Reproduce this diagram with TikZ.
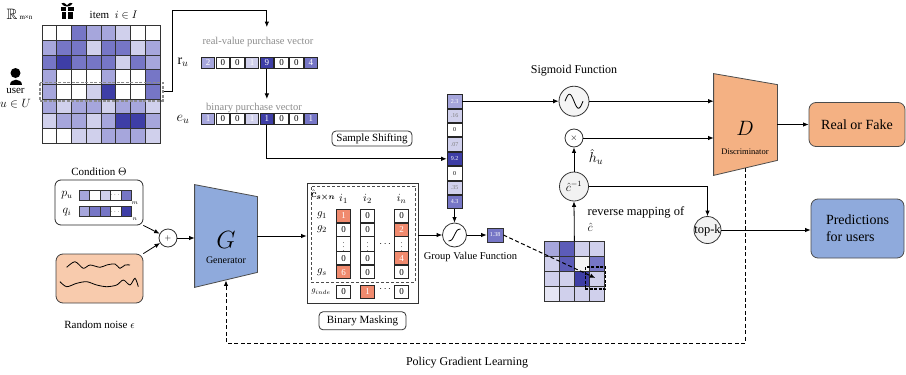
\documentclass[tikz,border=0pt]{standalone}
\usepackage{amsmath,amssymb}
\usepackage{fontspec}
\setmainfont{Liberation Serif}
\usepackage{tikz}
\usetikzlibrary{positioning}
\usetikzlibrary{arrows.meta}

% heat map shades
\definecolor{lev0}{RGB}{255,255,255}
\definecolor{lev0g}{RGB}{244,244,244}
\definecolor{lev1p}{RGB}{230,230,244}
\definecolor{lev1}{RGB}{208,208,236}
\definecolor{lev2}{RGB}{166,166,220}
\definecolor{lev3}{RGB}{118,118,198}
\definecolor{lev3b}{RGB}{92,92,184}
\definecolor{lev4}{RGB}{62,62,166}
\definecolor{salmon}{RGB}{240,138,110}
\definecolor{genblue}{RGB}{143,170,220}
\definecolor{discorange}{RGB}{244,177,131}
\definecolor{noisepeach}{RGB}{248,203,173}

\newcommand{\fsz}[1]{\fontsize{#1}{#1}\selectfont}

\begin{document}
\begin{tikzpicture}
	[x=1pt,y=1pt,line width=0.8pt,
	arr/.style={-{Latex[length=5.5pt,width=4.5pt]}},
	dasharr/.style={-{Latex[length=5.5pt,width=4.5pt]},dash pattern=on 4pt off 2.5pt,line width=1pt},
	heatcell/.style={draw=black!80,minimum width=14.75pt,minimum height=14.7pt,inner sep=0pt},
	veccell/.style={draw=black!85,minimum width=13.4pt,minimum height=11pt,inner sep=0pt,font=\fsz{9}},
	colcell/.style={draw=black!85,minimum width=15pt,minimum height=13.4pt,inner sep=0pt,font=\fsz{6}},
	maskcell/.style={draw=black!85,minimum width=14.5pt,minimum height=13pt,inner sep=0pt,font=\fsz{9}},
	condcell/.style={draw=black!80,line width=0.6pt,minimum width=10.5pt,minimum height=10pt,inner sep=0pt,font=\fsz{6}},
	redcell/.style={fill=salmon,text=white},
	whitecell/.style={fill=white},
	opnode/.style={circle,draw=black!80,inner sep=0pt},
	tagbox/.style={draw=black!80,rounded corners=4pt,inner sep=0pt,font=\fsz{11}},
	outbox/.style={draw=black!70,rounded corners=7pt,font={\fontsize{14}{17}\selectfont}}
	]
	\useasboundingbox (0,0) rectangle (906,-375);
	
	%Rating matrix
	\node(Rset) at (12,-14) {\fsz{15}$\mathbb{R}$};
	\node(Rdim) at (26,-18) {\fsz{7}m×n};
	\foreach \row [count=\r] in {{0,0,3,2,2,1,0,0},{2,3,3,1,3,3,1,2},{3,4,3,3,3,1,3,2},{2,0,0,0,2,0,0,3},{2,0,0,1,4,0,0,3},{2,1,2,2,1,2,2,1},{1,2,2,1,2,4,4,2},{0,0,1,1,2,2,2,1}}
		\foreach \v [count=\c] in \row
			\node(R-\r-\c)[heatcell,fill=lev\v] at ({42+14.75*(\c-0.5)},{-25.5-14.7*(\r-0.5)}) {};
	\node(urow)[draw=black!45,dash pattern=on 3pt off 1.5pt,line width=1.2pt,minimum width=123pt,minimum height=18.5pt,inner sep=0pt] at (R-5-4.east) {};
	
	%gift and user icons
	\fill (60.5,-6.5) rectangle (73.5,-10.5);
	\fill (61.5,-11.5) rectangle (72.5,-18.5);
	\fill[white] (66.3,-6.5) rectangle (67.7,-18.5);
	\draw[line width=1.1pt] (67,-6) .. controls (62,-0.5) and (60,-5) .. (67,-6);
	\draw[line width=1.1pt] (67,-6) .. controls (72,-0.5) and (74,-5) .. (67,-6);
	\node(item)[anchor=west] at (86,-15) {\fsz{11}item~~$i\in I$};
	\fill (15.5,-73) circle (5pt);
	\fill (9.5,-85) .. controls (9.5,-78) and (21.5,-78) .. (21.5,-85) -- cycle;
	\node(user)[inner sep=0pt] at (15.5,-90.5) {\fsz{11}user};
	\node(uset)[inner sep=0pt] at (15.5,-103.5) {\fsz{12}$u\in U$};
	
	%purchase vectors
	\node(rulab)[text=black!45] at (258,-42) {\fsz{10.5}real-value purchase vector};
	\node(ru) at (183,-62) {\fsz{14}$\mathrm{r}_u$};
	\foreach \v/\f/\t [count=\c] in {2/lev2/white,0/lev0/black,0/lev0/black,1/lev1/white,9/lev4/white,0/lev0/black,0/lev0/black,4/lev3/white}
		\node(ru-\c)[veccell,fill=\f,text=\t] at ({200.7+14.7*(\c-0.5)},-63) {\v};
	\node(eulab)[text=black!45] at (254,-107.5) {\fsz{10.5}binary purchase vector};
	\node(eu) at (183,-119) {\fsz{14}$e_u$};
	\foreach \v/\f/\t [count=\c] in {1/lev2/white,0/lev0/black,0/lev0/black,1/lev1/white,1/lev4/white,0/lev0/black,0/lev0/black,1/lev3/white}
		\node(eu-\c)[veccell,fill=\f,text=\t] at ({200.7+14.7*(\c-0.5)},-118.7) {\v};
	\node(shift)[tagbox,minimum width=80pt,minimum height=15pt] at (372,-138.5) {Sample Shifting};
	
	%shifted column
	\foreach \v/\f/\t [count=\k] in {2.3/lev2/white,.16/lev1/black!50,0/lev0/black,.07/lev1/black!50,9.2/lev4/white,0/lev0/black,.35/lev1/black!50,4.3/lev3/white}
		\node(col-\k)[colcell,fill=\f,text=\t] at (454.5,{-94-14.4*(\k-0.5)}) {\v};
	
	\draw[arr] (urow.east) -- ++(8.5,0) |- ([yshift=47pt]ru-5.north) -- ([yshift=30pt]ru-5.north);
	\draw[arr] (ru-5.south) -- (ru-5.south |- eulab.north);
	\draw[arr] (eu-5.south) |- (col-5.west);
	
	%condition and noise
	\node(cond)[draw=black!85,rounded corners=6pt,minimum width=88pt,minimum height=45pt] at (99,-202.5) {};
	\node(condlab)[above=0pt of cond] {\fsz{11}Condition $\Theta$};
	\node(pu) at (67,-195) {\fsz{12}$p_u$};
	\node(qi) at (67,-212) {\fsz{12}$q_i$};
	\foreach \f/\v [count=\c] in {lev2/{},lev0/{},lev1/{},lev0/$\cdots$,lev3/{}}
		\node(pu-\c)[condcell,fill=\f] at ({79+10.5*(\c-0.5)},-195) {\v};
	\foreach \f/\v [count=\c] in {lev2/{},lev3/{},lev3/{},lev0/$\cdots$,lev4/{}}
		\node(qi-\c)[condcell,fill=\f] at ({79+10.5*(\c-0.5)},-211.7) {\v};
	\node(msub) at (135,-203) {\fsz{6}$m$};
	\node(nsub) at (135,-219) {\fsz{6}$n$};
	
	\node(noise)[draw=black!75,fill=noisepeach,rounded corners=7pt,minimum width=87pt,minimum height=49pt] at (99.5,-278.5) {};
	\draw plot[smooth] coordinates {(66.7,-267.3) (75,-261.7) (83.3,-268.3) (90,-265) (100,-267.3) (106.7,-265) (115,-264) (120,-268.3) (125,-265) (130,-265)};
	\draw plot[smooth] coordinates {(60,-281.7) (66.7,-286.7) (76.7,-283.3) (86.7,-281.7) (96.7,-285) (106.7,-286.7) (116.7,-285) (123.3,-280) (130,-285) (135,-278.3) (138.3,-286.7)};
	\node(noiselab)[below=14pt of noise] {\fsz{11}Random noise $\epsilon$};
	
	\node(plus)[opnode,minimum size=18pt] at (168,-238) {\fsz{8}$+$};
	
	%Generator
	\node(Gen)[minimum width=62pt,minimum height=102pt,inner sep=0pt] at (226,-236) {};
	\draw[fill=genblue,draw=black!70] (Gen.north west) -- ([yshift=-12pt]Gen.north east) -- ([yshift=15pt]Gen.south east) -- (Gen.south west) -- cycle;
	\node(Gsym) at (226,-240) {\fsz{24}$G$};
	\node(Glab) at (226,-260) {\fsz{10}Generator};
	
	\draw[arr] (cond.south east) -- (plus);
	\draw[arr] (noise.north east) -- (plus);
	\draw[arr] (plus.east) -- (plus.east -| Gen.west);
	
	%Binary masking
	\node(mask)[draw=black!80,minimum width=111pt,minimum height=120pt,inner sep=0pt] at (362.5,-243) {};
	\node(grp)[draw=black!70,dash pattern=on 3pt off 2pt,line width=0.7pt,minimum width=104pt,minimum height=96pt,inner sep=0pt] at (363,-234) {};
	\node(chat) at (323,-195) {\fsz{11}$\hat{\boldsymbol{c}}_{\boldsymbol{s\times n}}$};
	\foreach \x/\i in {343.5/1,367.5/2,401.5/n}
		\node(i-\i) at (\x,-199) {\fsz{11}$i_{\i}$};
	\foreach \y/\g in {-215.5/1,-229.7/2,-272.3/s}
		\node(g-\g) at (322,\y) {\fsz{11}$g_{\g}$};
	\foreach \x/\cells [count=\j] in {343.5/{1/redcell,0/whitecell,{\fsz{7}$\vdots$}/whitecell,0/whitecell,6/redcell},367.5/{0/whitecell,0/whitecell,{\fsz{7}$\vdots$}/whitecell,0/whitecell,0/whitecell},401.5/{0/whitecell,2/redcell,{\fsz{7}$\vdots$}/whitecell,4/redcell,0/whitecell}}
		\foreach \v/\s [count=\r] in \cells
			\node(C-\j-\r)[maskcell,\s] at (\x,{-215.5-14.2*(\r-1)}) {\v};
	\node(hdots)[inner sep=0pt] at (386,-244) {$\cdots$};
	\node(gind) at (321,-292) {\fsz{8}$g_{inde}$};
	\foreach \x/\v/\s [count=\j] in {343.5/0/whitecell,367.5/1/redcell,401.5/0/whitecell}
		\node(I-\j)[maskcell,\s] at (\x,-292) {\v};
	\node(hdots2)[inner sep=0pt] at (386,-289) {$\cdots$};
	\node(bmask)[tagbox,minimum width=87pt,minimum height=18pt,below=8pt of mask] {Binary Masking};
	\draw[arr] (Gen.east) -- (Gen.east -| mask.west);
	
	%Group value function
	\node(gvf)[opnode,minimum size=24pt,fill=white] at (454.5,-235) {};
	\draw[shift={(gvf.center)}] (-6,-6) .. controls (1,-6) and (-1,6) .. (6,6);
	\node(gvflab)[below=1pt of gvf,xshift=16pt] {\fsz{10.5}Group Value Function};
	\node(gval)[draw=black!80,fill=lev3,text=white,minimum width=16pt,minimum height=14pt,inner sep=0pt] at (495,-235) {\fsz{6}1.38};
	\draw[arr] (col-8.south) -- (gvf.north);
	\draw[arr] (gvf.west -| mask.east) -- (gvf.west);
	\draw[arr] (gvf.east) -- (gval.west);
	
	%reverse mapping
	\foreach \row [count=\r] in {{2,3b,1,1},{1,3b,0g,3},{1,1,4,1},{1p,1,1,1}}
		\foreach \v [count=\c] in \row
			\node(S-\r-\c)[heatcell,minimum width=15pt,minimum height=14.8pt,fill=lev\v] at ({544+15*(\c-0.5)},{-241.7-14.8*(\r-0.5)}) {};
	\node(pick)[draw=black,dash pattern=on 3pt off 1.5pt,line width=1.1pt,minimum width=20.5pt,minimum height=22pt,inner sep=0pt] at (595.3,-278) {};
	\draw[dasharr] (gval.east) -- (pick.center);
	
	\node(sig)[opnode,minimum size=30pt,fill=black!4] at (574,-101.2) {};
	\draw[shift={(sig.center)}] plot[domain=-9:9,samples=31,smooth] (\x,{-7*sin(20*\x)});
	\node(siglab)[above=6pt of sig] {\fsz{12}Sigmoid Function};
	\node(times)[opnode,minimum size=18pt,fill=white] at (574,-138) {\fsz{9}$\times$};
	\node(hu)[inner sep=0pt] at (596,-157) {\fsz{14}$\hat{h}_u$};
	\node(cinv)[opnode,minimum size=29pt,fill=black!5] at (574,-186.5) {\fsz{12}$\hat{c}^{-1}$};
	\node(revlab)[anchor=north west,align=left,font={\fontsize{12.5}{15.5}\selectfont}] at (584,-203) {reverse mapping of\\$\hat{c}$};
	\node(topk)[opnode,minimum size=27pt,fill=black!5,label={[font=\fsz{12.5}]center:top-k}] at (707.5,-230) {};
	
	%Discriminator
	\node(Disc)[minimum width=63pt,minimum height=101pt,inner sep=0pt] at (745.5,-124.5) {};
	\draw[fill=discorange,draw=black!70] (Disc.north west) -- ([yshift=-11pt]Disc.north east) -- ([yshift=15pt]Disc.south east) -- (Disc.south west) -- cycle;
	\node(Dsym) at (745,-128) {\fsz{22}$D$};
	\node(Dlab) at (745,-152) {\fsz{8.5}Discriminator};
	
	\node(rof)[outbox,fill=discorange,minimum width=96pt,minimum height=44pt] at (857,-124.5) {Real or Fake};
	\node(pred)[outbox,fill=genblue,minimum width=93pt,minimum height=59pt,align=left] at (857.5,-228.5) {Predictions\\for users};
	
	\draw[arr] (col-1.east) -- (col-1.east -| sig.west);
	\draw[arr] (sig.east) -- (sig.east -| Disc.west);
	\draw[arr] (times.east) -- (times.east -| Disc.west);
	\draw[arr] (S-1-2.north east) -- (cinv.south);
	\draw[arr] (cinv.north) -- (times.south);
	\draw[arr] (cinv.east) -| (topk.north);
	\draw[arr] (topk.east) -- (topk.east -| pred.west);
	\draw[arr] (Disc.east) -- (Disc.east -| rof.west);
	
	%policy gradient loop
	\coordinate(pgl) at (0,-343);
	\draw[dasharr] ([yshift=7.5pt]Disc.south) -- (Disc.south |- pgl) -| ([yshift=7pt]Gen.south);
	\node(pglab) at (467,-363) {\fsz{12}Policy Gradient Learning};
	
\end{tikzpicture}
\end{document}
